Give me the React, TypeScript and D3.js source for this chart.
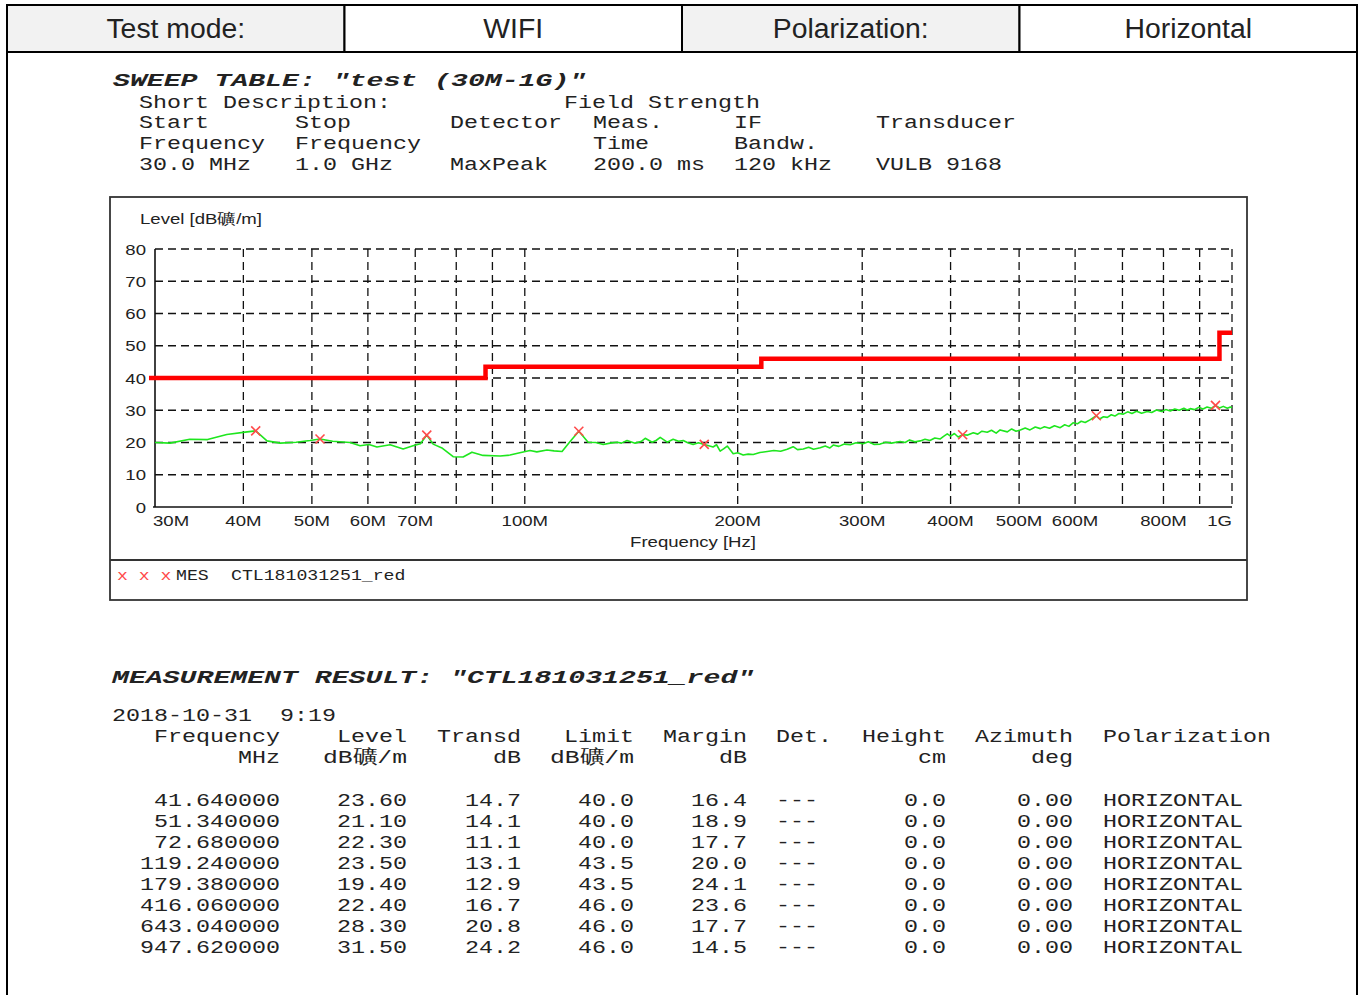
import * as d3 from 'd3'

const W = 1362
const H = 995
const SANS = 'Liberation Sans, Arial, sans-serif'
const MONO = 'Liberation Mono, Courier New, monospace'
const INK = '#222'
const SX = 1.24 // the report is stretched sideways

// header row
const HEAD_CELLS = ['Test mode:', 'WIFI', 'Polarization:', 'Horizontal']

// sweep table text
const SWEEP_TITLE = 'SWEEP TABLE: "test (30M-1G)"'
const SWEEP_DESC = ['Short Description:', 'Field Strength']
const SWEEP_ROWS = [
  ['Start', 'Stop', 'Detector', 'Meas.', 'IF', 'Transducer'],
  ['Frequency', 'Frequency', '', 'Time', 'Bandw.', ''],
  ['30.0 MHz', '1.0 GHz', 'MaxPeak', '200.0 ms', '120 kHz', 'VULB 9168'],
]

// chart series
const TRACE_FREQ = [
  30, 31.5, 33.6, 35.6, 37.9, 40.5, 41.64, 43.2, 45.1, 47.5, 49.7, 51.34, 53.5, 56.6, 58.5, 60.2,
  61.8, 64.5, 67.3, 69.5, 71.2, 72.68, 74.2, 76.5, 79.2, 81.8, 84.2, 87.3, 92.3, 95.3, 98.4, 101.7,
  104, 107.5, 110, 112.9, 115.9, 119.24, 122.9, 126, 129.1, 132, 135.1, 137, 139.5, 143.2, 146, 148,
  151.4, 153.5, 155.4, 159, 162.1, 165, 167.5, 170, 173, 176, 179.38, 182, 184.6, 186.7, 188.9, 191,
  193.3, 197.1, 200, 203.6, 207, 210.4, 215, 220.2, 225, 230, 235, 239.6, 243, 247.6, 252, 256,
  261.7, 266, 270, 273, 278, 283, 288.5, 294, 301, 306, 312, 318, 324, 330, 339.5, 345,
  350, 356, 362.4, 368, 374, 380, 386.8, 391, 395.7, 400, 405, 410, 416.06, 423, 430.7, 437,
  443, 450.7, 457, 464, 470, 481.2, 488, 495, 502, 510, 518, 527, 535.8, 543, 552, 561,
  571.6, 580, 588, 596, 604.4, 612, 620, 630.6, 643.04, 650, 658, 666.4, 675, 683, 692, 702,
  712, 722, 733, 745, 759, 770, 782, 795, 806, 818, 830, 842, 855, 864, 873, 885,
  897, 910, 922, 935, 947.62, 960, 972, 985, 994.5, 1000,
]
const TRACE_LEVEL = [
  20.0, 19.8, 21.0, 20.9, 22.5, 23.3, 23.6, 20.5, 19.8, 20.1, 20.6, 21.1, 20.4, 20.0, 19.0, 19.4,
  18.6, 19.3, 18.0, 19.0, 19.6, 22.3, 19.5, 18.2, 15.6, 15.5, 17.0, 16.0, 15.8, 16.1, 16.8, 17.5,
  17.1, 17.7, 17.4, 17.2, 20.3, 23.5, 20.1, 20.0, 19.4, 19.8, 20.1, 19.8, 20.6, 19.8, 20.3, 21.3,
  20.1, 20.7, 21.6, 20.1, 21.0, 20.4, 20.6, 19.9, 19.4, 19.9, 19.4, 19.0, 18.6, 19.3, 17.3, 18.0,
  18.9, 16.5, 16.8, 16.1, 16.4, 16.3, 16.9, 17.2, 17.5, 17.3, 17.9, 18.7, 17.8, 18.0, 18.5, 17.9,
  18.4, 18.9, 18.3, 19.2, 18.8, 19.5, 19.3, 19.9, 19.6, 20.2, 19.4, 19.5, 20.1, 19.8, 20.3, 20.0,
  20.8, 20.2, 20.5, 21.0, 20.6, 21.4, 21.1, 21.9, 22.7, 22.0, 22.8, 21.7, 22.4, 22.3, 23.0, 22.6,
  23.5, 23.2, 23.8, 22.9, 23.9, 23.3, 24.2, 23.5, 23.9, 24.5, 23.9, 24.8, 24.3, 24.9, 24.4, 25.2,
  24.6, 25.5, 25.0, 26.1, 25.8, 26.6, 26.2, 27.1, 28.3, 27.3, 28.0, 27.8, 28.6, 28.2, 29.0, 28.8,
  29.5, 29.0, 29.7, 29.1, 29.6, 29.3, 30.1, 29.6, 30.2, 29.8, 30.4, 30.0, 30.6, 30.1, 30.5, 30.2,
  30.9, 30.4, 31.0, 30.6, 31.5, 30.7, 31.2, 30.6, 31.0, 30.8,
]
const LIMIT_FREQ = [30, 88, 216, 960, 1000]
const LIMIT_LEVEL = [40, 43.5, 46, 54, 54]

const X_TICKS = [30, 40, 50, 60, 70, 100, 200, 300, 400, 500, 600, 800, 1000]
const X_TICK_LABELS = ['30M', '40M', '50M', '60M', '70M', '100M', '200M', '300M', '400M', '500M', '600M', '800M', '1G']
const X_GRID = [40, 50, 60, 70, 80, 90, 100, 200, 300, 400, 500, 600, 700, 800, 900, 1000]
const Y_TICKS = [0, 10, 20, 30, 40, 50, 60, 70, 80]

// measurement result table
const MEAS_FREQ = [41.64, 51.34, 72.68, 119.24, 179.38, 416.06, 643.04, 947.62]
const MEAS_LEVEL = [23.6, 21.1, 22.3, 23.5, 19.4, 22.4, 28.3, 31.5]
const MEAS_TRANSD = [14.7, 14.1, 11.1, 13.1, 12.9, 16.7, 20.8, 24.2]
const MEAS_LIMIT = [40.0, 40.0, 40.0, 43.5, 43.5, 46.0, 46.0, 46.0]
const MEAS_MARGIN = [16.4, 18.9, 17.7, 20.0, 24.1, 23.6, 17.7, 14.5]
const MEAS_HEIGHT = [0, 0, 0, 0, 0, 0, 0, 0]
const MEAS_AZIMUTH = [0, 0, 0, 0, 0, 0, 0, 0]
const MEAS_POL = 'HORIZONTAL'
const MEAS_HEAD1 = ['Frequency', 'Level', 'Transd', 'Limit', 'Margin', 'Det.', 'Height', 'Azimuth', 'Polarization']
const MEAS_HEAD2 = ['MHz', 'dB礦/m', 'dB', 'dB礦/m', 'dB', '', 'cm', 'deg', '']

// monospace text stretched to the report's character pitch
const cellCount = (s: string) => [...s].reduce((n, c) => n + (c.charCodeAt(0) > 0x2e80 ? 2 : 1), 0)

function Mono({ x, y, text, pitch = 14, size = 19, end = false, bold = false, fill = INK }: any) {
  if (!text) return null
  const w = cellCount(text) * pitch
  return (
    <text x={end ? x - w : x} y={y} fontSize={size} fontFamily={MONO} fill={fill}
      fontWeight={bold ? 'bold' : 'normal'} fontStyle={bold ? 'italic' : 'normal'}
      textLength={w} lengthAdjust="spacingAndGlyphs" xmlSpace="preserve">{text}</text>
  )
}

function Sans({ x, y, text, size = 15, anchor = 'start', sx = SX }: any) {
  return (
    <text transform={`translate(${x},${y}) scale(${sx},1)`} textAnchor={anchor}
      fontSize={size} fontFamily={SANS} fill={INK}>{text}</text>
  )
}

export default function App() {
  // plot area
  const x = d3.scaleLog().domain([30, 1000]).range([155, 1232])
  const y = d3.scaleLinear().domain([0, 80]).range([507, 249])

  const trace = d3.line<number>().x((_, i) => x(TRACE_FREQ[i])).y(d => y(d))(TRACE_LEVEL) || ''
  const limit = d3.line<number>().x((_, i) => x(LIMIT_FREQ[i])).y(d => y(d)).curve(d3.curveStepAfter)(LIMIT_LEVEL) || ''

  const cellW = (1357 - 7) / 4
  const sweepCols = [139, 295, 450, 593, 734, 876]
  const measEnds = [280, 407, 521, 634, 747, 776, 946, 1073, 1103]
  const grid = { stroke: '#111', strokeWidth: 1.3, strokeDasharray: '8,5' }

  return (
    <div style={{ position: 'absolute', left: 0, top: 0 }}>
      <svg width={W} height={H} style={{ display: 'block', background: '#fff' }}>

        {/* Header row */}
        {HEAD_CELLS.map((t, i) => (
          <g key={t}>
            <rect x={7 + i * cellW} y={5} width={cellW} height={47}
              fill={i % 2 === 0 ? '#f2f2f2' : '#fff'} stroke="#000" strokeWidth={2} />
            <Sans x={7 + i * cellW + cellW / 2} y={38} text={t} size={27} anchor="middle" sx={1.05} />
          </g>
        ))}
        <line x1={7} y1={52} x2={7} y2={H} stroke="#000" strokeWidth={2} />
        <line x1={1357} y1={52} x2={1357} y2={H} stroke="#000" strokeWidth={2} />

        {/* Sweep table */}
        <Mono x={113} y={86} text={SWEEP_TITLE} pitch={16.9} size={19} bold />
        <Mono x={139} y={108} text={SWEEP_DESC[0]} />
        <Mono x={564} y={108} text={SWEEP_DESC[1]} />
        {SWEEP_ROWS.map((row, r) => row.map((t, c) => (
          <Mono key={`${r}-${c}`} x={sweepCols[c]} y={128 + r * 21} text={t} />
        )))}

        {/* Chart frame */}
        <rect x={110} y={197} width={1137} height={403} fill="none" stroke="#333" strokeWidth={1.8} />
        <line x1={110} y1={560} x2={1247} y2={560} stroke="#333" strokeWidth={1.8} />

        <Sans x={140} y={224} text="Level [dB礦/m]" />

        {/* Grid */}
        {Y_TICKS.filter(v => v > 0).map(v => (
          <line key={`h${v}`} x1={x(30)} x2={x(1000)} y1={y(v)} y2={y(v)} {...grid} />
        ))}
        {X_GRID.map(f => (
          <line key={`v${f}`} x1={x(f)} x2={x(f)} y1={y(80)} y2={y(0)} {...grid} />
        ))}
        <line x1={x(30)} x2={x(30)} y1={y(80)} y2={y(0)} stroke="#111" strokeWidth={1.6} />
        <line x1={x(30) - 2} x2={x(1000)} y1={y(0)} y2={y(0)} stroke="#111" strokeWidth={1.6} />

        {/* Axis labels */}
        {Y_TICKS.map(v => (
          <Sans key={`yl${v}`} x={146} y={y(v) + 5.5} text={String(v)} anchor="end" />
        ))}
        {X_TICKS.map((f, i) => (
          <Sans key={`xl${f}`} x={i === 0 ? x(f) - 2 : x(f)} y={526} text={X_TICK_LABELS[i]}
            anchor={i === 0 ? 'start' : i === X_TICKS.length - 1 ? 'end' : 'middle'} />
        ))}
        <Sans x={693} y={547} text="Frequency [Hz]" anchor="middle" />

        {/* Limit and trace */}
        <path d={limit} fill="none" stroke="#ff0000" strokeWidth={4.5} strokeLinejoin="miter" />
        <line x1={x(30) - 6} x2={x(30)} y1={y(40)} y2={y(40)} stroke="#ff0000" strokeWidth={4.5} />
        <path d={trace} fill="none" stroke="#1ee61e" strokeWidth={1.6} strokeLinejoin="round" />

        {/* Final measurement markers */}
        {MEAS_FREQ.map((f, i) => {
          const cx = x(f), cy = y(MEAS_LEVEL[i]), s = 4.5
          return (
            <g key={`m${f}`} stroke="#ff4a4a" strokeWidth={1.6}>
              <line x1={cx - s} y1={cy - s} x2={cx + s} y2={cy + s} />
              <line x1={cx - s} y1={cy + s} x2={cx + s} y2={cy - s} />
            </g>
          )
        })}

        {/* Legend */}
        <Mono x={117} y={580} text="x x x" pitch={10.9} size={15} fill="#ff4a4a" />
        <Mono x={176} y={580} text="MES" pitch={10.9} size={15} />
        <Mono x={231} y={580} text="CTL181031251_red" pitch={10.9} size={15} />

        {/* Measurement result */}
        <Mono x={112} y={683} text={'MEASUREMENT RESULT: "CTL181031251_red"'} pitch={16.9} size={19} bold />
        <Mono x={112} y={721} text="2018-10-31  9:19" />
        {MEAS_HEAD1.map((t, i) => (
          <Mono key={`h1${i}`} x={measEnds[i]} y={742} text={t} end={i !== 5 && i !== 8} />
        ))}
        {MEAS_HEAD2.map((t, i) => (
          <Mono key={`h2${i}`} x={measEnds[i]} y={763} text={t} end />
        ))}
        {MEAS_FREQ.map((f, r) => {
          const cols = [
            f.toFixed(6), MEAS_LEVEL[r].toFixed(2), MEAS_TRANSD[r].toFixed(1), MEAS_LIMIT[r].toFixed(1),
            MEAS_MARGIN[r].toFixed(1), '---', MEAS_HEIGHT[r].toFixed(1), MEAS_AZIMUTH[r].toFixed(2), MEAS_POL,
          ]
          return cols.map((t, c) => (
            <Mono key={`r${r}c${c}`} x={measEnds[c]} y={806 + r * 21} text={t} end={c !== 5 && c !== 8} />
          ))
        })}
      </svg>
    </div>
  )
}
